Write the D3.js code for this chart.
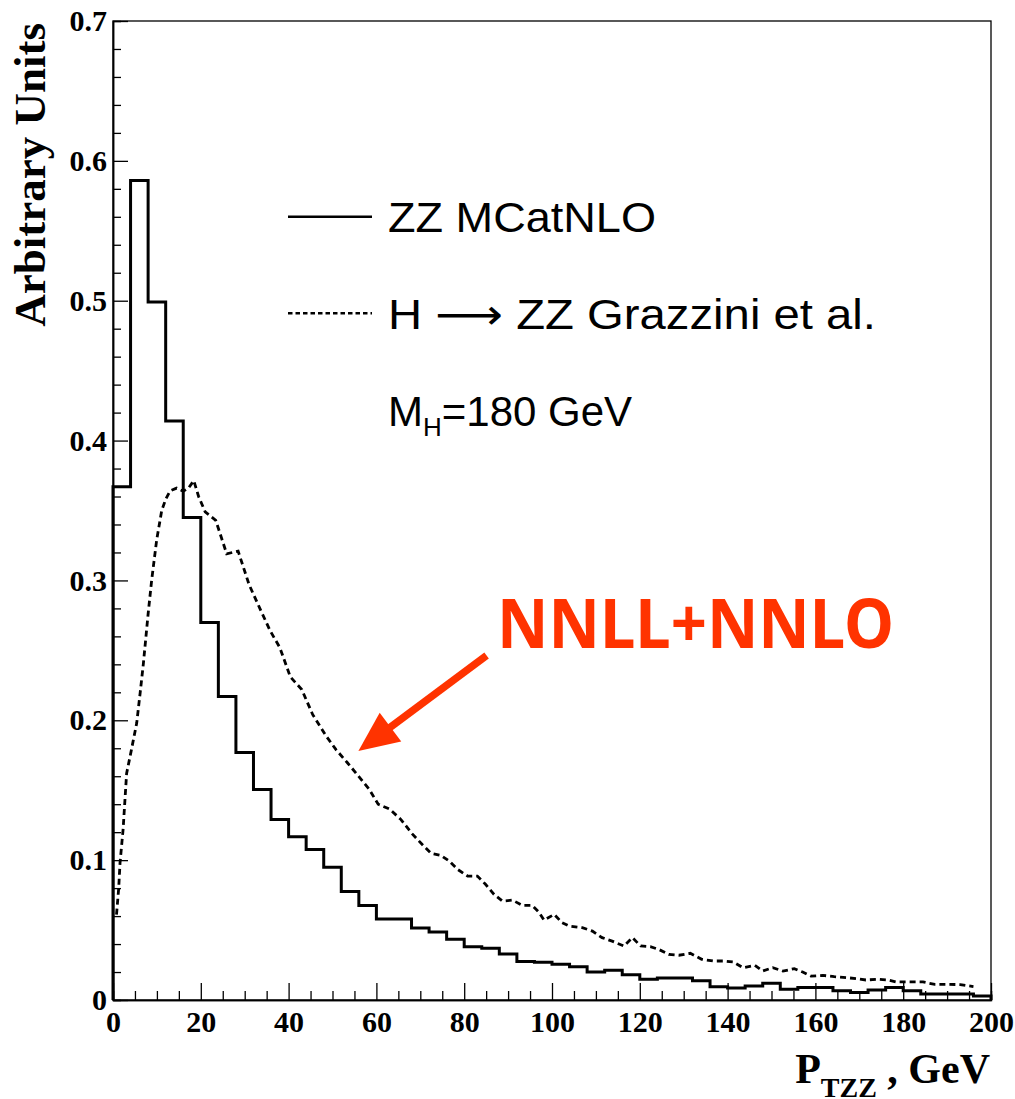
<!DOCTYPE html>
<html>
<head>
<meta charset="utf-8">
<script src="https://cdn.jsdelivr.net/npm/d3@7"></script>
<style>
  body { margin: 0; background: #fff; }
  svg { display: block; }
</style>
</head>
<body>
<svg id="chart_svg" width="1015" height="1099"></svg>
<script>
// ---- Data ----
// ZZ MCatNLO histogram, 4 GeV bins from 0 to 200
var binWidth = 4;
var mcatnloValues = [
    0.367, 0.586, 0.499, 0.414, 0.345, 0.270, 0.217, 0.177, 0.1505, 0.129,
    0.1167, 0.1076, 0.095, 0.0776, 0.0676, 0.058, 0.058, 0.0514, 0.0486, 0.0434,
    0.038, 0.037, 0.0329, 0.0275, 0.027, 0.0255, 0.0238, 0.020, 0.0212, 0.018,
    0.0148, 0.0158, 0.0158, 0.0138, 0.0095, 0.0086, 0.010, 0.0119, 0.0076, 0.009,
    0.009, 0.0067, 0.0053, 0.0071, 0.009, 0.0067, 0.0043, 0.0043, 0.0043, 0.0029
];

// H -> ZZ Grazzini et al. (dashed curve)
var grazziniX = [
    0.8, 1.3, 1.6, 2.3, 3.1, 4.2, 5.4, 6.2, 6.9, 8.0,
    8.8, 9.95, 11.1, 12.0, 13.0, 14.5, 16.0, 17.2, 18.4, 19.5,
    21.0, 23.4, 25.9, 28.5, 31.0, 33.6, 35.8, 38.0, 40.4, 43.0,
    45.5, 48.5, 50.8, 53.3, 56.2, 58.4, 60.4, 63.0, 65.6, 68.1,
    70.5, 72.4, 74.7, 76.6, 78.5, 80.8, 83.0, 84.9, 86.8, 88.7,
    91.0, 93.3, 95.5, 97.0, 98.2, 100.5, 102.3, 103.9, 106.9, 109.2,
    111.4, 113.7, 116.4, 118.3, 120.2, 122.4, 124.3, 126.6, 128.9, 131.5,
    134.1, 136.7, 139.0, 141.3, 143.5, 146.2, 148.0, 150.3, 152.6, 155.2,
    157.1, 159.0, 161.7, 164.3, 167.0, 169.3, 171.5, 174.2, 176.5, 178.4,
    181.5, 184.5, 187.2, 189.9, 193.0, 196.0
];
var grazziniY = [
    0.061, 0.080, 0.098, 0.122, 0.162, 0.179, 0.198, 0.220, 0.240, 0.276,
    0.300, 0.329, 0.350, 0.358, 0.364, 0.366, 0.3638, 0.366, 0.3714, 0.360,
    0.349, 0.343, 0.319, 0.321, 0.297, 0.279, 0.264, 0.252, 0.231, 0.222,
    0.204, 0.189, 0.179, 0.170, 0.159, 0.1505, 0.140, 0.1365, 0.129, 0.119,
    0.111, 0.105, 0.1034, 0.0993, 0.0934, 0.0886, 0.0886, 0.0826, 0.0755, 0.0707,
    0.0714, 0.0676, 0.0676, 0.0629, 0.0571, 0.0612, 0.0553, 0.0529, 0.0517, 0.0493,
    0.0446, 0.0421, 0.0386, 0.0446, 0.0386, 0.0381, 0.0362, 0.0326, 0.0320, 0.0334,
    0.0291, 0.0279, 0.0279, 0.0272, 0.0231, 0.0248, 0.0207, 0.0231, 0.0207, 0.0224,
    0.020, 0.0171, 0.0176, 0.0167, 0.016, 0.0153, 0.0143, 0.0148, 0.0143, 0.0129,
    0.0129, 0.0129, 0.0112, 0.0112, 0.011, 0.0096
];

// Tick values
var xMajorTicks = [0, 20, 40, 60, 80, 100, 120, 140, 160, 180, 200];
var xMinorTicks = [5, 10, 15, 25, 30, 35, 45, 50, 55, 65, 70, 75, 85, 90, 95, 105, 110, 115,
                   125, 130, 135, 145, 150, 155, 165, 170, 175, 185, 190, 195];
var yMajorTicks = [0, 0.1, 0.2, 0.3, 0.4, 0.5, 0.6, 0.7];
var yMinorTicks = [0.02, 0.04, 0.06, 0.08, 0.12, 0.14, 0.16, 0.18, 0.22, 0.24, 0.26, 0.28,
                   0.32, 0.34, 0.36, 0.38, 0.42, 0.44, 0.46, 0.48, 0.52, 0.54, 0.56, 0.58,
                   0.62, 0.64, 0.66, 0.68];

// Annotation arrow (data coords): from -> to
var arrowFrom = [85.1, 0.2464];
var arrowTo = [55.9, 0.178];
var annotationText = "NNLL+NNLO";

// ---- Setup ----
var chart_svg = d3.select("#chart_svg");
var margin = {top: 21, right: 24, bottom: 99, left: 113};
var width = 1015, height = 1099;
var innerWidth = width - margin.left - margin.right;
var innerHeight = height - margin.top - margin.bottom;

var xScale = d3.scaleLinear().domain([0, 200]).range([0, innerWidth]);
var yScale = d3.scaleLinear().domain([0, 0.7]).range([innerHeight, 0]);

var plot_g = chart_svg.append("g")
    .attr("transform", "translate(" + margin.left + "," + margin.top + ")");

var serif = "'Liberation Serif', 'Times New Roman', serif";

// Frame (top and right edges)
plot_g.append("rect")
    .attr("x", 0).attr("y", 0)
    .attr("width", innerWidth).attr("height", innerHeight)
    .attr("fill", "none")
    .attr("stroke", "#000")
    .attr("stroke-width", 1.3);

// AXES
// X minor ticks
plot_g.append("g")
    .attr("class", "minor")
    .attr("transform", "translate(0," + innerHeight + ")")
    .call(d3.axisBottom(xScale).tickValues(xMinorTicks).tickSize(-9).tickFormat(""));

// X major ticks + labels
plot_g.append("g")
    .attr("class", "xAxis")
    .attr("transform", "translate(0," + innerHeight + ")")
    .call(d3.axisBottom(xScale).tickValues(xMajorTicks)
        .tickSizeInner(-17).tickSizeOuter(0).tickPadding(11)
        .tickFormat(d3.format("d")));

// Y minor ticks
plot_g.append("g")
    .attr("class", "minor")
    .call(d3.axisLeft(yScale).tickValues(yMinorTicks).tickSize(-8).tickFormat(""));

// Y major ticks + labels
plot_g.append("g")
    .attr("class", "yAxis")
    .call(d3.axisLeft(yScale).tickValues(yMajorTicks)
        .tickSizeInner(-15).tickSizeOuter(0).tickPadding(6)
        .tickFormat(function(d) { return d === 0 ? "0" : d.toFixed(1); }));

// minor axes carry no labels
plot_g.selectAll(".minor text").remove();

plot_g.selectAll(".domain").attr("stroke", "#000").attr("stroke-width", 1.5);
plot_g.selectAll(".tick line").attr("stroke", "#000").attr("stroke-width", 1.3);
plot_g.selectAll(".xAxis text, .yAxis text")
    .attr("font-family", serif)
    .attr("font-weight", "bold")
    .attr("font-size", 30)
    .attr("fill", "#000");

// Solid histogram (ZZ MCatNLO)
var binLow = d3.range(0, 200, binWidth);
var histPoints = [{x: 0, y: 0}];
mcatnloValues.forEach(function(v, i) { histPoints.push({x: binLow[i], y: v}); });
histPoints.push({x: 200, y: mcatnloValues[mcatnloValues.length - 1]});
histPoints.push({x: 200, y: 0});

plot_g.append("path")
    .datum(histPoints)
    .attr("fill", "none")
    .attr("stroke", "#000")
    .attr("stroke-width", 3)
    .attr("d", d3.line()
        .curve(d3.curveStepAfter)
        .x(function(d) { return xScale(d.x); })
        .y(function(d) { return yScale(d.y); }));

// Dashed curve (Grazzini et al.)
var grazziniData = grazziniX.map(function(x, i) { return {x: x, y: grazziniY[i]}; });
plot_g.append("path")
    .datum(grazziniData)
    .attr("fill", "none")
    .attr("stroke", "#000")
    .attr("stroke-width", 2.8)
    .attr("stroke-dasharray", "6,4")
    .attr("d", d3.line()
        .x(function(d) { return xScale(d.x); })
        .y(function(d) { return yScale(d.y); }));

// Legend
var legendFont = "'Liberation Sans', Arial, sans-serif";
chart_svg.append("line")
    .attr("x1", 288).attr("x2", 372).attr("y1", 216.7).attr("y2", 216.7)
    .attr("stroke", "#000").attr("stroke-width", 2.6);
chart_svg.append("line")
    .attr("x1", 288).attr("x2", 372).attr("y1", 313.3).attr("y2", 313.3)
    .attr("stroke", "#000").attr("stroke-width", 2.4)
    .attr("stroke-dasharray", "4.5,3");

chart_svg.append("text")
    .attr("x", 388).attr("y", 232)
    .attr("font-family", legendFont).attr("font-size", 42)
    .attr("textLength", 268).attr("lengthAdjust", "spacingAndGlyphs")
    .text("ZZ MCatNLO");

var row2 = chart_svg.append("text")
    .attr("x", 388).attr("y", 329)
    .attr("font-family", legendFont).attr("font-size", 42)
    .attr("textLength", 488).attr("lengthAdjust", "spacingAndGlyphs");
row2.append("tspan").text("H ");
row2.append("tspan").attr("font-family", "'DejaVu Sans', sans-serif").text("\u27F6");
row2.append("tspan").text(" ZZ Grazzini et al.");

var row3 = chart_svg.append("text")
    .attr("x", 388).attr("y", 426)
    .attr("font-family", legendFont).attr("font-size", 42);
row3.append("tspan").text("M");
row3.append("tspan").attr("font-size", 26).attr("dy", 10).text("H");
row3.append("tspan").attr("dy", -10).text("=180 GeV");

// Annotation
var red = "#ff3300";
var ax1 = xScale(arrowFrom[0]), ay1 = yScale(arrowFrom[1]);
var ax2 = xScale(arrowTo[0]), ay2 = yScale(arrowTo[1]);
var ang = Math.atan2(ay2 - ay1, ax2 - ax1);
var headLen = 40, headHalf = 18;
var bx = ax2 - headLen * Math.cos(ang), by = ay2 - headLen * Math.sin(ang);

plot_g.append("line")
    .attr("x1", ax1).attr("y1", ay1)
    .attr("x2", bx + 4 * Math.cos(ang)).attr("y2", by + 4 * Math.sin(ang))
    .attr("stroke", red).attr("stroke-width", 7.5);

plot_g.append("polygon")
    .attr("points", [
        [ax2, ay2],
        [bx - headHalf * Math.sin(ang), by + headHalf * Math.cos(ang)],
        [bx + headHalf * Math.sin(ang), by - headHalf * Math.cos(ang)]
    ].map(function(p) { return p.join(","); }).join(" "))
    .attr("fill", red);

chart_svg.append("text")
    .attr("x", 497).attr("y", 648)
    .attr("font-family", "'Noto Sans', 'DejaVu Sans', sans-serif")
    .attr("font-weight", "bold")
    .attr("font-size", 68)
    .attr("fill", red)
    .attr("textLength", 397).attr("lengthAdjust", "spacingAndGlyphs")
    .text(annotationText);

// Axis titles
chart_svg.append("text")
    .attr("transform", "translate(45,23) rotate(-90)")
    .attr("text-anchor", "end")
    .attr("font-family", serif)
    .attr("font-weight", "bold")
    .attr("font-size", 45)
    .text("Arbitrary Units");

var xTitle = chart_svg.append("text")
    .attr("x", 990).attr("y", 1083)
    .attr("text-anchor", "end")
    .attr("font-family", serif)
    .attr("font-weight", "bold")
    .attr("font-size", 42);
xTitle.append("tspan").text("P");
xTitle.append("tspan").attr("font-size", 28).attr("dy", 14).text("TZZ");
xTitle.append("tspan").attr("dy", -14).text(" , GeV");
</script>
</body>
</html>
